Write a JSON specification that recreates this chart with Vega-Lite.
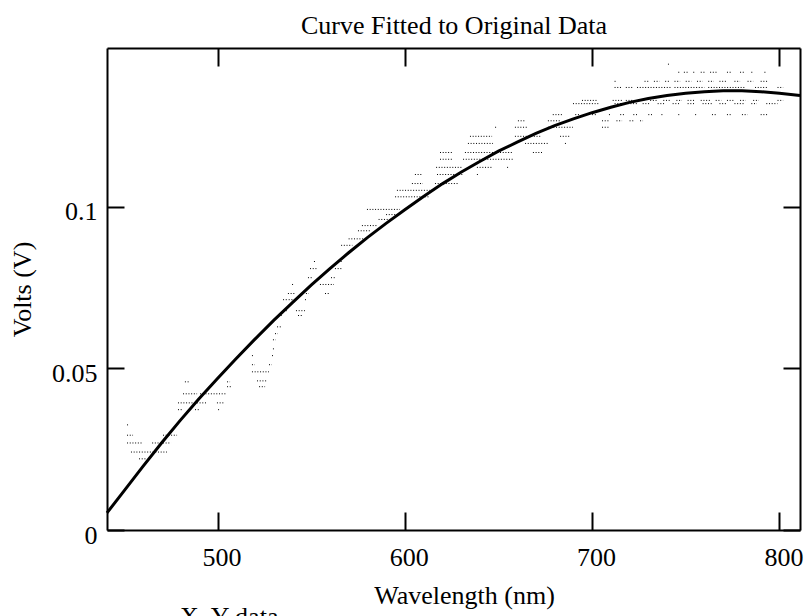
{
  "$schema": "https://vega.github.io/schema/vega-lite/v6.json",
  "autosize": "none",
  "width": 693,
  "height": 482,
  "padding": {"left": 107, "top": 48, "right": 8, "bottom": 86},
  "background": "white",
  "title": {"text": "X, Y data", "orient": "bottom", "anchor": "start", "frame": "group", "dx": 73, "offset": -4, "baseline": "top", "font": "Liberation Serif", "fontSize": 26, "fontWeight": "normal", "color": "black"},
  "config": {"view": {"stroke": null}, "font": "Liberation Serif"},
  "datasets": {
    "obs": [
      {"w1": 740.5, "w2": 741.1, "v": 0.1440},
      {"w1": 746, "w2": 747, "v": 0.1415},
      {"w1": 749, "w2": 751, "v": 0.1415},
      {"w1": 754, "w2": 755, "v": 0.1415},
      {"w1": 758, "w2": 760, "v": 0.1415},
      {"w1": 763, "w2": 767, "v": 0.1415},
      {"w1": 772, "w2": 774, "v": 0.1415},
      {"w1": 779, "w2": 781, "v": 0.1415},
      {"w1": 785, "w2": 786, "v": 0.1415},
      {"w1": 792, "w2": 793, "v": 0.1415},
      {"w1": 712, "w2": 712.6, "v": 0.1387},
      {"w1": 728, "w2": 730, "v": 0.1387},
      {"w1": 733, "w2": 736, "v": 0.1387},
      {"w1": 739, "w2": 741, "v": 0.1387},
      {"w1": 744, "w2": 747, "v": 0.1387},
      {"w1": 750, "w2": 753, "v": 0.1387},
      {"w1": 756, "w2": 759, "v": 0.1387},
      {"w1": 762, "w2": 765, "v": 0.1387},
      {"w1": 768, "w2": 772, "v": 0.1387},
      {"w1": 776, "w2": 779, "v": 0.1387},
      {"w1": 783, "w2": 786, "v": 0.1387},
      {"w1": 790, "w2": 794, "v": 0.1387},
      {"w1": 712, "w2": 716, "v": 0.1368},
      {"w1": 718, "w2": 722, "v": 0.1368},
      {"w1": 724, "w2": 742, "v": 0.1368},
      {"w1": 744, "w2": 760, "v": 0.1368},
      {"w1": 762, "w2": 782, "v": 0.1368},
      {"w1": 787, "w2": 794, "v": 0.1368},
      {"w1": 799, "w2": 802, "v": 0.1368},
      {"w1": 694.6, "w2": 703.1, "v": 0.1328},
      {"w1": 711, "w2": 716, "v": 0.1328},
      {"w1": 718, "w2": 722, "v": 0.1328},
      {"w1": 725, "w2": 728, "v": 0.1328},
      {"w1": 731, "w2": 735, "v": 0.1328},
      {"w1": 738, "w2": 742, "v": 0.1328},
      {"w1": 745, "w2": 748, "v": 0.1328},
      {"w1": 751, "w2": 755, "v": 0.1328},
      {"w1": 758, "w2": 763, "v": 0.1328},
      {"w1": 766, "w2": 769, "v": 0.1328},
      {"w1": 772, "w2": 776, "v": 0.1328},
      {"w1": 779, "w2": 782, "v": 0.1328},
      {"w1": 786, "w2": 789, "v": 0.1328},
      {"w1": 799, "w2": 802, "v": 0.1328},
      {"w1": 689.8, "w2": 704.2, "v": 0.1318},
      {"w1": 712, "w2": 716, "v": 0.1318},
      {"w1": 719, "w2": 724, "v": 0.1318},
      {"w1": 727, "w2": 731, "v": 0.1318},
      {"w1": 735, "w2": 739, "v": 0.1318},
      {"w1": 743, "w2": 747, "v": 0.1318},
      {"w1": 751, "w2": 755, "v": 0.1318},
      {"w1": 759, "w2": 764, "v": 0.1318},
      {"w1": 768, "w2": 772, "v": 0.1318},
      {"w1": 776, "w2": 781, "v": 0.1318},
      {"w1": 785, "w2": 788, "v": 0.1318},
      {"w1": 793, "w2": 799, "v": 0.1318},
      {"w1": 679, "w2": 684.5, "v": 0.1284},
      {"w1": 691, "w2": 693, "v": 0.1284},
      {"w1": 700, "w2": 702, "v": 0.1284},
      {"w1": 709, "w2": 710, "v": 0.1284},
      {"w1": 715, "w2": 717, "v": 0.1284},
      {"w1": 722, "w2": 724, "v": 0.1284},
      {"w1": 730, "w2": 732, "v": 0.1284},
      {"w1": 737, "w2": 738, "v": 0.1284},
      {"w1": 746, "w2": 747, "v": 0.1284},
      {"w1": 755, "w2": 756, "v": 0.1284},
      {"w1": 764, "w2": 766, "v": 0.1284},
      {"w1": 772, "w2": 774, "v": 0.1284},
      {"w1": 780, "w2": 783, "v": 0.1284},
      {"w1": 790, "w2": 794, "v": 0.1284},
      {"w1": 660.4, "w2": 664.2, "v": 0.1265},
      {"w1": 676.4, "w2": 682.9, "v": 0.1265},
      {"w1": 705.3, "w2": 709, "v": 0.1265},
      {"w1": 713, "w2": 716, "v": 0.1265},
      {"w1": 720, "w2": 722, "v": 0.1265},
      {"w1": 725.6, "w2": 727.2, "v": 0.1265},
      {"w1": 648.2, "w2": 648.8, "v": 0.1245},
      {"w1": 658.8, "w2": 665.2, "v": 0.1245},
      {"w1": 676.4, "w2": 689.8, "v": 0.1245},
      {"w1": 705.3, "w2": 709.5, "v": 0.1245},
      {"w1": 634.8, "w2": 646.6, "v": 0.1217},
      {"w1": 658.8, "w2": 673.2, "v": 0.1217},
      {"w1": 682.9, "w2": 688.1, "v": 0.1217},
      {"w1": 633.7, "w2": 647.1, "v": 0.1195},
      {"w1": 664.2, "w2": 676.4, "v": 0.1195},
      {"w1": 685.5, "w2": 686.1, "v": 0.1195},
      {"w1": 618.8, "w2": 625.7, "v": 0.1167},
      {"w1": 632.1, "w2": 657.8, "v": 0.1167},
      {"w1": 668.4, "w2": 673.8, "v": 0.1167},
      {"w1": 618.8, "w2": 625.2, "v": 0.1146},
      {"w1": 631.1, "w2": 657.8, "v": 0.1146},
      {"w1": 616.7, "w2": 631.1, "v": 0.1121},
      {"w1": 638.5, "w2": 646.6, "v": 0.1121},
      {"w1": 654.6, "w2": 655.2, "v": 0.1121},
      {"w1": 605.4, "w2": 609.2, "v": 0.1099},
      {"w1": 617.2, "w2": 631.1, "v": 0.1099},
      {"w1": 638.5, "w2": 639.1, "v": 0.1099},
      {"w1": 603.8, "w2": 609.7, "v": 0.1071},
      {"w1": 616.1, "w2": 628.4, "v": 0.1071},
      {"w1": 595.8, "w2": 613.5, "v": 0.1050},
      {"w1": 594.8, "w2": 613.5, "v": 0.1030},
      {"w1": 579.8, "w2": 597.4, "v": 0.0991},
      {"w1": 590, "w2": 596, "v": 0.0975},
      {"w1": 586, "w2": 592, "v": 0.0960},
      {"w1": 577.1, "w2": 585.2, "v": 0.0941},
      {"w1": 575, "w2": 582, "v": 0.0925},
      {"w1": 570, "w2": 578, "v": 0.0900},
      {"w1": 566, "w2": 572, "v": 0.0880},
      {"w1": 551.5, "w2": 552.1, "v": 0.0830},
      {"w1": 564.3, "w2": 567, "v": 0.0830},
      {"w1": 549.4, "w2": 553.7, "v": 0.0808},
      {"w1": 562.7, "w2": 566.5, "v": 0.0808},
      {"w1": 548.3, "w2": 551, "v": 0.0780},
      {"w1": 560.6, "w2": 563.3, "v": 0.0780},
      {"w1": 539.8, "w2": 540.4, "v": 0.0759},
      {"w1": 554.7, "w2": 562.2, "v": 0.0759},
      {"w1": 537.6, "w2": 541.4, "v": 0.0731},
      {"w1": 547.2, "w2": 548.8, "v": 0.0731},
      {"w1": 557.4, "w2": 560.1, "v": 0.0731},
      {"w1": 535, "w2": 537.1, "v": 0.0712},
      {"w1": 538, "w2": 541.4, "v": 0.0712},
      {"w1": 546.7, "w2": 547.8, "v": 0.0712},
      {"w1": 535, "w2": 537.6, "v": 0.0678},
      {"w1": 541.9, "w2": 546.7, "v": 0.0678},
      {"w1": 532.3, "w2": 534.4, "v": 0.0663},
      {"w1": 543, "w2": 545.6, "v": 0.0663},
      {"w1": 531.8, "w2": 534.4, "v": 0.0628},
      {"w1": 530.7, "w2": 532.3, "v": 0.0607},
      {"w1": 529.6, "w2": 531.2, "v": 0.0588},
      {"w1": 529.6, "w2": 530.2, "v": 0.0560},
      {"w1": 518.4, "w2": 519, "v": 0.0539},
      {"w1": 529.1, "w2": 530.2, "v": 0.0539},
      {"w1": 518.4, "w2": 520, "v": 0.0511},
      {"w1": 527.5, "w2": 529.1, "v": 0.0511},
      {"w1": 518.4, "w2": 527.5, "v": 0.0489},
      {"w1": 521.1, "w2": 526.4, "v": 0.0461},
      {"w1": 482.6, "w2": 485.3, "v": 0.0458},
      {"w1": 505.1, "w2": 506.7, "v": 0.0458},
      {"w1": 505.1, "w2": 507.2, "v": 0.0443},
      {"w1": 522.2, "w2": 525.4, "v": 0.0443},
      {"w1": 481.6, "w2": 489.1, "v": 0.0421},
      {"w1": 490.7, "w2": 505.1, "v": 0.0421},
      {"w1": 478.9, "w2": 494.4, "v": 0.0393},
      {"w1": 499.7, "w2": 504, "v": 0.0393},
      {"w1": 478.9, "w2": 481, "v": 0.0372},
      {"w1": 488, "w2": 490.7, "v": 0.0372},
      {"w1": 500.3, "w2": 500.9, "v": 0.0372},
      {"w1": 451.7, "w2": 452.7, "v": 0.0325},
      {"w1": 451.7, "w2": 454.9, "v": 0.0293},
      {"w1": 470.9, "w2": 478.4, "v": 0.0293},
      {"w1": 451.7, "w2": 459.7, "v": 0.0269},
      {"w1": 465.1, "w2": 475.2, "v": 0.0269},
      {"w1": 453.8, "w2": 473, "v": 0.0241},
      {"w1": 458.1, "w2": 462.4, "v": 0.0220}
    ],
    "fit": [
      {"wl": 441, "volt": 0.0053},
      {"wl": 450, "volt": 0.0120},
      {"wl": 460, "volt": 0.0195},
      {"wl": 470, "volt": 0.0268},
      {"wl": 480, "volt": 0.0338},
      {"wl": 490, "volt": 0.0405},
      {"wl": 500, "volt": 0.0468},
      {"wl": 510, "volt": 0.0530},
      {"wl": 520, "volt": 0.0590},
      {"wl": 530, "volt": 0.0648},
      {"wl": 540, "volt": 0.0703},
      {"wl": 550, "volt": 0.0757},
      {"wl": 560, "volt": 0.0808},
      {"wl": 570, "volt": 0.0857},
      {"wl": 580, "volt": 0.0904},
      {"wl": 590, "volt": 0.0948},
      {"wl": 600, "volt": 0.0990},
      {"wl": 610, "volt": 0.1031},
      {"wl": 620, "volt": 0.1070},
      {"wl": 630, "volt": 0.1106},
      {"wl": 640, "volt": 0.1139},
      {"wl": 650, "volt": 0.1171},
      {"wl": 660, "volt": 0.1199},
      {"wl": 670, "volt": 0.1226},
      {"wl": 680, "volt": 0.1250},
      {"wl": 690, "volt": 0.1271},
      {"wl": 700, "volt": 0.1290},
      {"wl": 710, "volt": 0.1307},
      {"wl": 720, "volt": 0.1322},
      {"wl": 730, "volt": 0.1334},
      {"wl": 740, "volt": 0.1343},
      {"wl": 750, "volt": 0.1350},
      {"wl": 760, "volt": 0.1355},
      {"wl": 770, "volt": 0.1358},
      {"wl": 780, "volt": 0.1358},
      {"wl": 790, "volt": 0.1355},
      {"wl": 800, "volt": 0.1350},
      {"wl": 811, "volt": 0.1343}
    ]
  },
  "layer": [
    {
      "data": {"name": "obs"},
      "mark": {"type": "rule", "color": "black", "strokeWidth": 1, "strokeDash": [1, 1.7]},
      "encoding": {
        "x": {"field": "w1", "type": "quantitative", "scale": {"domain": [441, 811], "nice": false, "zero": false},
          "axis": {"orient": "bottom", "values": [500, 600, 700, 800], "format": "d", "grid": false,
            "domainColor": "black", "domainWidth": 2, "tickColor": "black", "tickWidth": 2, "tickSize": -18,
            "labelFont": "Liberation Serif", "labelFontSize": 26, "labelColor": "black", "labelPadding": 32, "labelOffset": 4, "labelFlush": false,
            "title": "Wavelength (nm)", "titleFont": "Liberation Serif", "titleFontSize": 26, "titleFontWeight": "normal", "titleColor": "black", "titlePadding": 12, "titleX": 357}},
        "x2": {"field": "w2"},
        "y": {"field": "v", "type": "quantitative", "scale": {"domain": [0, 0.149], "nice": false, "zero": false},
          "axis": {"orient": "left", "values": [0, 0.05, 0.1], "format": "~g", "grid": false,
            "domainColor": "black", "domainWidth": 2, "tickColor": "black", "tickWidth": 2, "tickSize": -17,
            "labelFont": "Liberation Serif", "labelFontSize": 26, "labelColor": "black", "labelPadding": 27, "labelOffset": 5,
            "title": "Volts (V)", "titleFont": "Liberation Serif", "titleFontSize": 26, "titleFontWeight": "normal", "titleColor": "black", "titlePadding": 16}}
      }
    },
    {
      "data": {"name": "fit"},
      "mark": {"type": "line", "color": "black", "strokeWidth": 3},
      "encoding": {
        "x": {"field": "wl", "type": "quantitative", "scale": {"domain": [441, 811], "nice": false, "zero": false},
          "axis": {"orient": "top", "values": [500, 600, 700, 800], "labels": false, "grid": false,
            "domainColor": "black", "domainWidth": 2, "tickColor": "black", "tickWidth": 2, "tickSize": -18,
            "title": "Curve Fitted to Original Data", "titleFont": "Liberation Serif", "titleFontSize": 26, "titleFontWeight": "normal", "titleColor": "black", "titlePadding": 9}},
        "y": {"field": "volt", "type": "quantitative", "scale": {"domain": [0, 0.149], "nice": false, "zero": false},
          "axis": {"orient": "right", "values": [0, 0.05, 0.1], "labels": false, "grid": false,
            "domainColor": "black", "domainWidth": 2, "tickColor": "black", "tickWidth": 2, "tickSize": -17, "title": null}}
      }
    }
  ],
  "resolve": {"axis": {"x": "independent", "y": "independent"}}
}
